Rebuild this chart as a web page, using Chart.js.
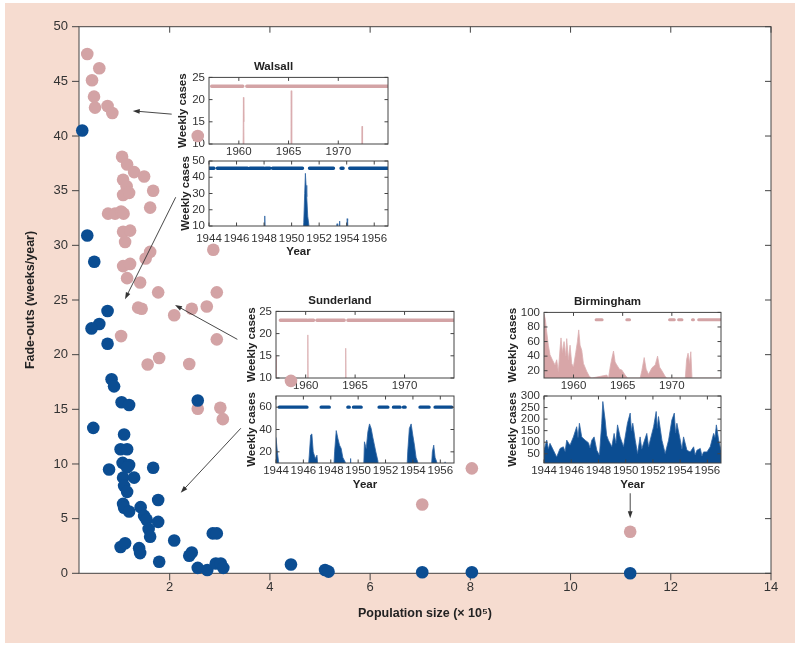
<!DOCTYPE html>
<html>
<head>
<meta charset="utf-8">
<script src="https://cdn.jsdelivr.net/npm/chart.js@4.4.1/dist/chart.umd.min.js"></script>
<style>
  body { margin: 0; background: #fff; }
  #wrap { position: relative; width: 800px; height: 647px; overflow: hidden; }
  #frame { position: absolute; left: 5px; top: 3px; width: 790px; height: 640px; background: #f6dcd0; }
  #plotbg { position: absolute; background: #fff; }
  canvas { position: absolute; }
</style>
</head>
<body>
<div id="wrap">
  <div id="frame"></div>
  <div id="plotbg"></div>
  <canvas id="walsallPost"></canvas>
  <canvas id="walsallPre"></canvas>
  <canvas id="sunderlandPost"></canvas>
  <canvas id="sunderlandPre"></canvas>
  <canvas id="birminghamPost"></canvas>
  <canvas id="birminghamPre"></canvas>
  <canvas id="main"></canvas>
</div>
<script>
// colours
const BLUE = '#0b4d92'
const PINK = '#d3a3a5'
const AXIS = '#444'

// ---- main scatter: population (x 10^5) vs fade-outs (weeks/year) ----
const pinkPop = [0.355, 0.595, 0.45, 0.49, 0.51, 0.76, 0.855, 2.56, 1.05, 1.15, 1.29, 1.49, 1.07, 1.14, 1.07, 1.19, 1.67, 1.61,
  0.77, 0.91, 1.03, 1.08, 1.07, 1.21, 1.11, 1.61, 1.52, 2.87, 1.07, 1.21, 1.15, 1.41, 1.77, 2.94, 1.37, 1.44, 2.09, 2.44,
  2.74, 1.03, 2.94, 1.56, 1.79, 2.39, 2.56, 3.01, 3.06, 4.42, 7.04, 8.03, 11.19]
const pinkFade = [47.5, 46.2, 45.1, 43.6, 42.6, 42.75, 42.1, 40.0, 38.1, 37.4, 36.7, 36.3, 36.0, 35.4, 34.6, 34.8, 35.0, 33.45,
  32.9, 32.9, 33.1, 32.9, 31.25, 31.35, 30.3, 29.4, 28.8, 29.6, 28.1, 28.3, 27.0, 26.6, 25.7, 25.7, 24.3, 24.2, 23.6, 24.2,
  24.4, 21.7, 21.4, 19.1, 19.7, 19.15, 15.05, 15.15, 14.1, 17.6, 6.3, 9.6, 3.8]
const bluePop = [0.255, 0.355, 0.495, 0.76, 0.595, 0.44, 0.76, 0.84, 0.89, 1.04, 1.19, 2.56, 0.475, 1.09, 1.02, 1.15, 1.06,
  1.19, 1.15, 0.79, 1.67, 1.07, 1.29, 1.09, 1.15, 1.77, 1.07, 1.09, 1.19, 1.42, 1.49, 1.54, 1.77, 1.58, 1.61, 2.09, 2.86,
  2.94, 1.02, 1.11, 1.39, 1.41, 2.39, 2.44, 1.79, 2.56, 2.75, 2.92, 3.02, 3.07, 4.42, 5.1, 5.17, 7.04, 8.03, 11.19]
const blueFade = [40.5, 30.9, 28.5, 24.0, 22.8, 22.4, 21.0, 17.75, 17.1, 15.65, 15.4, 15.8, 13.3, 12.7, 11.35, 11.35, 10.1,
  9.9, 9.7, 9.5, 9.65, 8.75, 8.75, 8.0, 7.45, 6.7, 6.35, 6.0, 5.65, 6.05, 5.25, 4.9, 4.7, 4.05, 3.35, 3.0, 3.65,
  3.65, 2.4, 2.75, 2.3, 1.85, 1.6, 1.9, 1.05, 0.5, 0.3, 0.9, 0.9, 0.5, 0.8, 0.3, 0.15, 0.1, 0.1, 0.0]
const popTicks = [2, 4, 6, 8, 10, 12, 14]
const fadeTicks = [0, 5, 10, 15, 20, 25, 30, 35, 40, 45, 50]

// arrows from the insets to their cities (data units of the main axes)
const arrowFromX = [2.04, 2.12, 3.35, 3.42, 11.19]
const arrowFromY = [42.0, 34.4, 21.4, 13.27, 7.32]
const arrowToX = [1.262, 1.108, 2.106, 2.22, 11.19]
const arrowToY = [42.3, 25.07, 24.55, 7.37, 5.03]

// ---- inset tick labels ----
const postYearTicks = [1960, 1965, 1970]
const preYearTicks = [1944, 1946, 1948, 1950, 1952, 1954, 1956]
const ticks10to25 = [10, 15, 20, 25]
const walsallPreTicks = [10, 20, 30, 40, 50]
const sunderlandPreTicks = [20, 40, 60]
const birminghamPostTicks = [20, 40, 60, 80, 100]
const birminghamPreTicks = [50, 100, 150, 200, 250, 300]

// ---- Walsall weekly cases ----
const walsallPostYears = [1957.00, 1960.40, 1960.46, 1960.50, 1960.56, 1965.22, 1965.27, 1965.32, 1972.34, 1972.39, 1972.44, 1975.00]
const walsallPostCases = [0, 0, 20.5, 15, 0, 0, 22, 0, 0, 14, 0, 0]
const walsallPostFadeFrom = [1957.27, 1960.80]
const walsallPostFadeTo = [1960.40, 1975.00]
const walsallPreYears = [1944.00, 1948.00, 1948.05, 1948.10, 1950.80, 1950.88, 1950.95, 1951.00, 1951.05, 1951.10, 1951.17,
  1951.25, 1951.30, 1953.25, 1953.30, 1953.35, 1953.44, 1953.49, 1953.54, 1953.98, 1954.03, 1954.07, 1954.11, 1957.00]
const walsallPreCases = [0, 0, 16.2, 0, 0, 12, 30, 42.4, 35, 28, 16, 11, 0, 0, 11.4, 0, 0, 13, 0, 0, 14.5, 13.5, 0, 0]
const walsallPreFadeFrom = [1944.00, 1944.61, 1946.97, 1948.11, 1948.62, 1951.30, 1953.59, 1954.22]
const walsallPreFadeTo = [1944.36, 1946.80, 1947.99, 1948.43, 1950.79, 1953.04, 1953.74, 1957.00]

// ---- Sunderland weekly cases ----
const sunderlandPostYears = [1957.00, 1957.04, 1960.17, 1960.22, 1960.27, 1963.98, 1964.05, 1964.12, 1975.00]
const sunderlandPostCases = [15, 0, 0, 19.7, 0, 0, 16.7, 0, 0]
const sunderlandPostFadeFrom = [1957.44, 1960.30, 1961.14, 1964.27]
const sunderlandPostFadeTo = [1960.13, 1960.80, 1963.90, 1975.00]
const sunderlandPreYears = [1944.00, 1944.10, 1944.19, 1944.29, 1946.33, 1946.43, 1946.53, 1946.62, 1946.72, 1946.87, 1946.99,
  1947.11, 1948.20, 1948.28, 1948.40, 1948.52, 1948.64, 1948.76, 1948.88, 1949.05, 1949.20, 1949.40, 1949.45, 1949.50,
  1950.39, 1950.46, 1950.59, 1950.71, 1950.83, 1950.95, 1951.07, 1951.19, 1951.29, 1951.44, 1951.53, 1953.55, 1953.62,
  1953.74, 1953.87, 1953.99, 1954.11, 1954.23, 1954.35, 1954.45, 1955.32, 1955.42, 1955.52, 1955.62, 1955.74, 1955.83,
  1956.27, 1956.35, 1956.42, 1957.00]
const sunderlandPreCases = [33, 20, 11, 0, 0, 17, 35, 36, 20, 14, 17, 0, 0, 20, 39, 32, 26, 23, 15, 11, 0, 0, 14, 0,
  0, 29, 23, 38, 45, 41, 33, 26, 20, 12, 0, 0, 20, 41, 45, 35, 26, 15, 11, 0, 0, 20, 26, 15, 11, 0, 0, 11, 0, 0]
const sunderlandPreFadeFrom = [1944.24, 1947.30, 1949.25, 1949.66, 1951.53, 1952.58, 1953.31, 1954.52, 1955.62]
const sunderlandPreFadeTo = [1946.26, 1947.89, 1949.35, 1950.22, 1952.17, 1953.06, 1953.43, 1955.18, 1956.83]

// ---- Birmingham weekly cases ----
const birminghamPostYears = [1957.00, 1957.14, 1957.27, 1957.44, 1957.61, 1957.85, 1958.12, 1958.29, 1958.46, 1958.63,
  1958.73, 1958.87, 1959.04, 1959.21, 1959.31, 1959.48, 1959.65, 1959.82, 1959.99, 1960.23, 1960.40, 1960.53, 1960.67,
  1960.84, 1961.01, 1961.35, 1961.62, 1961.86, 1963.39, 1963.56, 1963.73, 1963.90, 1964.07, 1964.23, 1964.40, 1964.68,
  1964.91, 1965.25, 1965.49, 1966.78, 1966.95, 1967.19, 1967.39, 1967.63, 1967.98, 1968.31, 1968.55, 1968.75, 1968.99,
  1969.33, 1969.50, 1971.37, 1971.50, 1971.65, 1971.80, 1971.93, 1972.05, 1975.00]
const birminghamPostCases = [98, 90, 74, 55, 42, 35, 28, 35, 19, 50, 65, 45, 60, 40, 64, 35, 55, 30, 25, 45, 60, 76, 55,
  48, 30, 19, 12, 10, 14, 10, 25, 37, 47, 32, 28, 22, 21, 14, 10, 10, 20, 38, 22, 15, 24, 28, 40, 25, 20, 12, 10, 10, 35,
  44, 30, 46, 10, 10]
const birminghamPostFadeFrom = [1962.30, 1965.42, 1969.77, 1970.69, 1972.10, 1972.73]
const birminghamPostFadeTo = [1962.91, 1965.70, 1970.25, 1971.03, 1972.20, 1974.93]
const birminghamPreYears = [1944.00, 1944.20, 1944.32, 1944.44, 1944.69, 1944.93, 1945.18, 1945.42, 1945.55, 1945.67,
  1945.91, 1946.16, 1946.40, 1946.50, 1946.60, 1946.77, 1947.02, 1947.26, 1947.38, 1947.51,
  1947.68, 1947.88, 1948.07, 1948.24, 1948.32, 1948.49, 1948.60, 1948.73, 1948.98, 1949.15,
  1949.28, 1949.40, 1949.59, 1949.84, 1950.13, 1950.33, 1950.42, 1950.52, 1950.70, 1950.87,
  1951.06, 1951.18, 1951.31, 1951.55, 1951.68, 1951.80, 1952.05, 1952.24, 1952.32, 1952.41,
  1952.66, 1952.90, 1953.15, 1953.39, 1953.57, 1953.66, 1953.76, 1954.01, 1954.13, 1954.25,
  1954.50, 1954.74, 1954.99, 1955.10, 1955.23, 1955.48, 1955.60, 1955.72, 1955.97, 1956.21,
  1956.46, 1956.56, 1956.66, 1956.83, 1957.00]
const birminghamPreCases = [65, 109, 70, 95, 65, 36, 73, 80, 60, 109,
  87, 123, 167, 120, 182, 123, 109, 98, 75, 109,
  123, 65, 44, 182, 276, 196, 130, 109, 80, 138,
  95, 175, 123, 80, 182, 226, 150, 182, 109, 51,
  123, 70, 95, 138, 80, 109, 167, 233, 160, 211,
  109, 51, 109, 196, 226, 140, 182, 109, 70, 123,
  65, 58, 80, 45, 65, 73, 40, 58, 58, 80,
  138, 120, 175, 109, 65]

Chart.defaults.font.family = '"Liberation Sans", Arial, Helvetica, sans-serif'
Chart.defaults.color = '#333'

// box round the plot area, ticks on all four sides (negative = towards the left / up)
const framePlugin = {
  id: 'frame',
  beforeDatasetsDraw(chart, args, opts) { if (opts.under) drawFrame(chart, opts) },
  afterDatasetsDraw(chart, args, opts) { if (!opts.under) drawFrame(chart, opts) }
}

function drawFrame(chart, o) {
  const { ctx, chartArea: a, scales } = chart
  ctx.save()
  ctx.strokeStyle = AXIS
  ctx.lineWidth = 1
  ctx.strokeRect(a.left, a.top, a.right - a.left, a.bottom - a.top)
  ctx.beginPath()
  scales.x.ticks.forEach(t => {
    const px = scales.x.getPixelForValue(t.value)
    ctx.moveTo(px, a.bottom); ctx.lineTo(px, a.bottom + o.bottom)
    ctx.moveTo(px, a.top); ctx.lineTo(px, a.top + o.top)
  })
  scales.y.ticks.forEach(t => {
    const py = scales.y.getPixelForValue(t.value)
    ctx.moveTo(a.left, py); ctx.lineTo(a.left + o.left, py)
    ctx.moveTo(a.right, py); ctx.lineTo(a.right + o.right, py)
  })
  ctx.stroke()
  ctx.restore()
}

const arrowPlugin = {
  id: 'arrows',
  afterDatasetsDraw(chart) {
    const { ctx, scales: { x, y } } = chart
    ctx.save()
    ctx.strokeStyle = '#333'
    ctx.fillStyle = '#333'
    ctx.lineWidth = 0.9
    arrowFromX.forEach((fx, i) => {
      const x0 = x.getPixelForValue(fx), y0 = y.getPixelForValue(arrowFromY[i])
      const x1 = x.getPixelForValue(arrowToX[i]), y1 = y.getPixelForValue(arrowToY[i])
      const ang = Math.atan2(y1 - y0, x1 - x0)
      const c = Math.cos(ang), s = Math.sin(ang)
      ctx.beginPath()
      ctx.moveTo(x0, y0)
      ctx.lineTo(x1 - 5 * c, y1 - 5 * s)
      ctx.stroke()
      ctx.beginPath()
      ctx.moveTo(x1, y1)
      ctx.lineTo(x1 - 7 * c + 2.4 * s, y1 - 7 * s - 2.4 * c)
      ctx.lineTo(x1 - 7 * c - 2.4 * s, y1 - 7 * s + 2.4 * c)
      ctx.closePath()
      ctx.fill()
    })
    ctx.restore()
  }
}

const fixTicks = list => scale => { scale.ticks = list.map(v => ({ value: v })) }

// create a chart, then resize / move its canvas so the plot area lands on box
function placeChart(id, box, makeConfig, w, h) {
  const canvas = document.getElementById(id)
  canvas.width = w
  canvas.height = h
  let chart = new Chart(canvas, makeConfig())
  let a = chart.chartArea
  const dw = Math.round(box.w - (a.right - a.left))
  const dh = Math.round(box.h - (a.bottom - a.top))
  if (dw || dh) {
    chart.destroy()
    canvas.width = w + dw
    canvas.height = h + dh
    chart = new Chart(canvas, makeConfig())
    a = chart.chartArea
  }
  canvas.style.left = (box.x - a.left) + 'px'
  canvas.style.top = (box.y - a.top) + 'px'
  return chart
}

function fillSet(years, cases, color, edge) {
  return {
    data: years.map((x, i) => ({ x, y: cases[i] })),
    backgroundColor: color, borderColor: edge, borderWidth: 0.8,
    fill: 'start', pointRadius: 0, tension: 0
  }
}

function fadeSet(from, to, level, color, width) {
  const pts = []
  from.forEach((s, i) => { pts.push({ x: s, y: level }, { x: to[i], y: level }, { x: to[i], y: null }) })
  return {
    data: pts, borderColor: color, borderWidth: width, borderCapStyle: 'round',
    pointRadius: 0, fill: false, spanGaps: false
  }
}

function insetConfig(p) {
  return () => ({
    type: 'line',
    data: { datasets: [fadeSet(p.fadeFrom, p.fadeTo, p.fadeLevel, p.color, p.fadeWidth), fillSet(p.years, p.cases, p.fill, p.edge)] },
    options: {
      responsive: false, animation: false, events: [],
      layout: { padding: { top: p.title ? 6 : 12, right: 50, left: 0, bottom: 0 } },
      plugins: {
        legend: { display: false }, tooltip: { enabled: false },
        title: { display: !!p.title, text: p.title || '', font: { size: 11.5, weight: 'bold' }, color: '#222', padding: { top: 0, bottom: 3.6 } },
        frame: { under: false, bottom: -3.5, top: 3.5, left: 3.5, right: -3.5 }
      },
      scales: {
        x: {
          type: 'linear', min: p.xMin, max: p.xMax,
          afterBuildTicks: fixTicks(p.xTicks),
          afterFit: s => { s.height = 36 },
          grid: { display: false, drawTicks: false }, border: { display: false },
          ticks: { font: { size: 11.5 }, color: '#333', padding: p.xPad, autoSkip: false, maxRotation: 0, callback: v => String(v) },
          title: { display: !!p.xTitle, text: 'Year', font: { size: 11.5, weight: 'bold' }, color: '#222', padding: { top: 0, bottom: p.xTitlePad } }
        },
        y: {
          min: p.yMin, max: p.yMax,
          afterBuildTicks: fixTicks(p.yTicks),
          afterFit: s => { s.width = 50 },
          grid: { display: false, drawTicks: false }, border: { display: false },
          ticks: { font: { size: 11.5 }, color: '#333', padding: 4, autoSkip: false, callback: v => String(v) },
          title: { display: true, text: 'Weekly cases', font: { size: 11.5, weight: 'bold' }, color: '#222', padding: { top: p.yTitlePad, bottom: 0 } }
        }
      }
    },
    plugins: [framePlugin]
  })
}

const postStyle = { xMin: 1957, xMax: 1975, xTicks: postYearTicks, color: PINK, fill: '#dbb0b2', edge: '#d9acae', fadeWidth: 3.4 }
const preStyle = { xMin: 1944, xMax: 1957, xTicks: preYearTicks, color: BLUE, fill: BLUE, edge: '#2f64a3', fadeWidth: 3.4 }

const insets = [
  { id: 'walsallPost', box: { x: 209, y: 77, w: 178.5, h: 67 }, ...postStyle, title: 'Walsall',
    years: walsallPostYears, cases: walsallPostCases, fadeFrom: walsallPostFadeFrom, fadeTo: walsallPostFadeTo, fadeLevel: 23,
    yMin: 10, yMax: 25, yTicks: ticks10to25, xPad: 1, yTitlePad: 17.4 },
  { id: 'walsallPre', box: { x: 209, y: 161, w: 178.5, h: 65 }, ...preStyle, xTitle: true, xTitlePad: 3.1,
    years: walsallPreYears, cases: walsallPreCases, fadeFrom: walsallPreFadeFrom, fadeTo: walsallPreFadeTo, fadeLevel: 45.5,
    yMin: 10, yMax: 50, yTicks: walsallPreTicks, xPad: 5.5, yTitlePad: 19.5 },
  { id: 'sunderlandPost', box: { x: 276, y: 311.7, w: 178.3, h: 66.6 }, ...postStyle, title: 'Sunderland',
    years: sunderlandPostYears, cases: sunderlandPostCases, fadeFrom: sunderlandPostFadeFrom, fadeTo: sunderlandPostFadeTo, fadeLevel: 23,
    yMin: 10, yMax: 25, yTicks: ticks10to25, xPad: 1.4, yTitlePad: 18.8 },
  { id: 'sunderlandPre', box: { x: 276, y: 396, w: 178.3, h: 66.7 }, ...preStyle, xTitle: true, xTitlePad: 6.8,
    years: sunderlandPreYears, cases: sunderlandPreCases, fadeFrom: sunderlandPreFadeFrom, fadeTo: sunderlandPreFadeTo, fadeLevel: 60,
    yMin: 10, yMax: 70, yTicks: sunderlandPreTicks, xPad: 1.4, yTitlePad: 18.8 },
  { id: 'birminghamPost', box: { x: 544, y: 312.3, w: 176.7, h: 66 }, ...postStyle, title: 'Birmingham', fill: '#d8a6a8', edge: '#dcb0b2', fadeWidth: 3,
    years: birminghamPostYears, cases: birminghamPostCases, fadeFrom: birminghamPostFadeFrom, fadeTo: birminghamPostFadeTo, fadeLevel: 90,
    yMin: 10, yMax: 100, yTicks: birminghamPostTicks, xPad: 1.4, yTitlePad: 12.4 },
  { id: 'birminghamPre', box: { x: 544, y: 396, w: 176.7, h: 66.7 }, ...preStyle, xTitle: true, xTitlePad: 6.8,
    years: birminghamPreYears, cases: birminghamPreCases, fadeFrom: [], fadeTo: [], fadeLevel: 0,
    yMin: 10, yMax: 300, yTicks: birminghamPreTicks, xPad: 1.4, yTitlePad: 12.4 }
]

insets.forEach(p => {
  const h = p.box.h + (p.title ? 24 : 12) + 36
  placeChart(p.id, p.box, insetConfig(p), Math.round(p.box.w + 100), Math.round(h))
})

// main chart on top, so its points sit above the insets
const mainBox = { x: 79, y: 26.7, w: 692, h: 546.6 }
const main = placeChart('main', mainBox, () => ({
  type: 'scatter',
  data: {
    datasets: [
      { data: bluePop.map((x, i) => ({ x, y: blueFade[i] })), backgroundColor: BLUE, borderWidth: 0, pointRadius: 6.3, clip: false },
      { data: pinkPop.map((x, i) => ({ x, y: pinkFade[i] })), backgroundColor: PINK, borderWidth: 0, pointRadius: 6.3, clip: false }
    ]
  },
  options: {
    responsive: false, animation: false, events: [],
    layout: { padding: { top: 26.7, right: 29, left: 0, bottom: 0 } },
    plugins: {
      legend: { display: false }, tooltip: { enabled: false },
      frame: { under: true, bottom: 7, top: 6, left: -7, right: -6 }
    },
    scales: {
      x: {
        type: 'linear', min: 0.19, max: 14,
        afterBuildTicks: fixTicks(popTicks),
        afterFit: s => { s.height = 73.7 },
        grid: { display: false, drawTicks: false }, border: { display: false },
        ticks: { font: { size: 13 }, color: '#333', padding: 5.9, autoSkip: false, maxRotation: 0, callback: v => String(v) },
        title: { display: true, text: 'Population size (× 10⁵)', font: { size: 12.5, weight: 'bold' }, color: '#222', padding: { top: 0, bottom: 26.2 } }
      },
      y: {
        type: 'linear', min: 0, max: 50,
        afterBuildTicks: fixTicks(fadeTicks),
        afterFit: s => { s.width = 79 },
        grid: { display: false, drawTicks: false }, border: { display: false },
        ticks: { font: { size: 13 }, color: '#333', padding: 11, autoSkip: false, callback: v => String(v) },
        title: { display: true, text: 'Fade-outs (weeks/year)', font: { size: 12.5, weight: 'bold' }, color: '#222', padding: { top: 23.5, bottom: 0 } }
      }
    }
  },
  plugins: [framePlugin, arrowPlugin]
}), 800, 647)

// white plot area behind everything
const area = main.chartArea
const mc = document.getElementById('main')
const bg = document.getElementById('plotbg')
bg.style.left = (parseFloat(mc.style.left) + area.left) + 'px'
bg.style.top = (parseFloat(mc.style.top) + area.top) + 'px'
bg.style.width = (area.right - area.left) + 'px'
bg.style.height = (area.bottom - area.top) + 'px'
</script>
</body>
</html>
